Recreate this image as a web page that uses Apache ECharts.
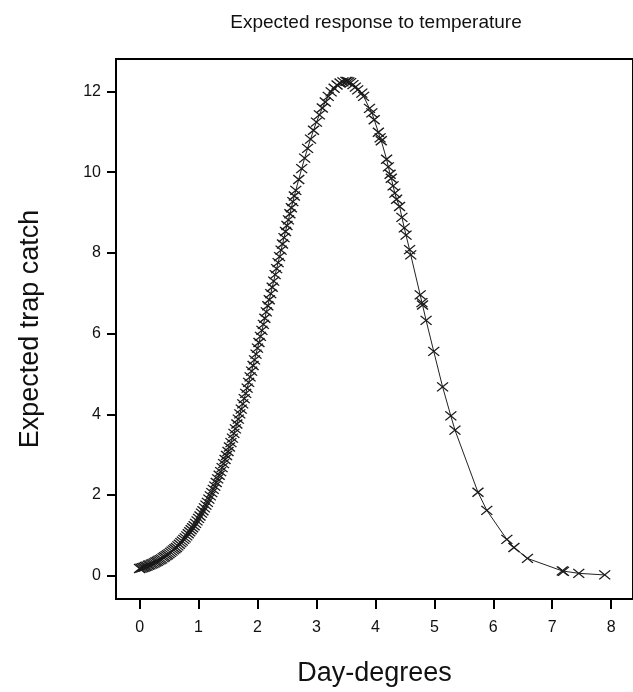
<!DOCTYPE html>
<html>
<head>
<meta charset="utf-8">
<script src="https://cdn.jsdelivr.net/npm/echarts@6/dist/echarts.min.js"></script>
<style>
html,body{margin:0;padding:0;background:#fff;}
#chart{width:633px;height:692px;}
</style>
</head>
<body>
<div id="chart"></div>
<script>
// Day-degrees (x) and expected trap catch (y)
const xValues = [
  0.00,0.025,0.05,0.075,0.10,0.125,0.15,0.175,0.20,0.225,0.25,0.275,0.30,0.325,0.35,0.375,0.40,0.425,0.45,0.475,
  0.50,0.525,0.55,0.575,0.60,0.625,0.65,0.675,0.70,0.725,0.75,0.775,0.80,0.825,0.85,0.875,0.90,0.925,0.95,0.975,
  1.00,1.025,1.05,1.075,1.10,1.125,1.15,1.175,1.20,1.225,1.25,1.275,1.30,1.325,1.35,1.375,1.40,1.425,1.45,1.475,
  1.50,1.525,1.55,1.575,1.60,1.625,1.65,1.675,1.70,1.725,1.75,1.775,1.80,1.825,1.85,1.875,1.90,1.925,1.95,1.975,
  2.00,2.025,2.05,2.075,2.10,2.125,2.15,2.175,2.20,2.225,2.25,2.275,2.30,2.325,2.35,2.375,2.40,2.425,2.45,2.475,
  2.50,2.525,2.55,2.575,2.60,2.625,2.65,
  2.70,2.75,2.80,2.85,2.90,2.95,3.00,3.05,3.10,3.15,3.20,3.25,3.30,3.35,3.40,3.45,3.50,
  3.52,3.55,3.58,3.62,3.66,3.70,3.77,3.80,3.90,3.94,3.98,4.05,4.08,4.10,4.19,4.22,4.25,4.27,4.30,4.33,
  4.36,4.41,4.45,4.49,4.52,4.58,4.60,4.76,4.79,4.80,4.86,4.99,5.14,5.28,5.35,5.74,5.89,6.23,6.35,6.58,
  7.17,7.19,7.45,7.89
];
const yValues = [
  0.18,0.19,0.20,0.21,0.23,0.24,0.26,0.27,0.29,0.30,0.32,0.34,0.36,0.38,0.40,0.42,0.45,0.47,0.50,0.52,
  0.55,0.58,0.61,0.64,0.67,0.70,0.74,0.78,0.82,0.86,0.90,0.94,0.99,1.04,1.09,1.14,1.19,1.24,1.30,1.36,
  1.42,1.48,1.55,1.61,1.68,1.75,1.82,1.90,1.98,2.06,2.14,2.22,2.31,2.40,2.49,2.58,2.68,2.78,2.88,2.98,
  3.08,3.19,3.30,3.41,3.53,3.64,3.76,3.88,4.01,4.13,4.26,4.39,4.52,4.65,4.79,4.93,5.07,5.21,5.35,5.49,
  5.64,5.78,5.93,6.08,6.23,6.38,6.54,6.69,6.84,6.99,7.15,7.30,7.46,7.61,7.76,7.91,8.07,8.22,8.38,8.53,
  8.68,8.82,8.97,9.12,9.27,9.41,9.55,
  9.82,10.09,10.35,10.59,10.82,11.04,11.24,11.42,11.59,11.74,11.88,11.99,12.08,12.16,12.21,12.24,12.25,
  12.25,12.24,12.22,12.17,12.11,12.04,11.96,11.88,11.58,11.47,11.30,10.99,10.85,10.78,10.32,10.13,9.95,9.85,9.66,9.48,
  9.33,9.15,8.88,8.62,8.44,8.08,7.95,6.96,6.77,6.71,6.33,5.56,4.68,3.96,3.61,2.07,1.62,0.90,0.70,0.43,
  0.12,0.11,0.06,0.02
];
const xTicks = [0,1,2,3,4,5,6,7,8];
const yTicks = [0,2,4,6,8,10,12];

const points = xValues.map((x, i) => [x, yValues[i]]);
const font = '"Liberation Sans", Arial, sans-serif';

const chart = echarts.init(document.getElementById('chart'), null, {renderer: 'canvas'});
chart.setOption({
  animation: false,
  backgroundColor: '#fff',
  title: {
    text: 'Expected response to temperature',
    left: 376,
    top: 13,
    padding: 0,
    textAlign: 'center',
    textStyle: {fontFamily: font, fontSize: 19, fontWeight: 'normal', color: '#111'}
  },
  grid: {
    left: 116, top: 59, right: -10, bottom: 89.3,
    show: true, borderColor: '#000', borderWidth: 2, containLabel: false
  },
  xAxis: {
    type: 'value', min: -0.4, max: 8.37,
    name: 'Day-degrees', nameLocation: 'middle', nameGap: 61,
    nameTextStyle: {fontFamily: font, fontSize: 27, color: '#111'},
    axisLine: {show: true, onZero: false, lineStyle: {color: '#000', width: 2}},
    axisTick: {show: true, inside: false, length: 10, lineStyle: {color: '#000', width: 2}, customValues: xTicks},
    axisLabel: {fontFamily: font, fontSize: 16, color: '#111', margin: 21, customValues: xTicks},
    splitLine: {show: false}
  },
  yAxis: {
    type: 'value', min: -0.576, max: 12.805,
    name: 'Expected trap catch', nameLocation: 'middle', nameGap: 72, nameRotate: 90,
    nameTextStyle: {fontFamily: font, fontSize: 27, color: '#111'},
    axisLine: {show: true, onZero: false, lineStyle: {color: '#000', width: 2}},
    axisTick: {show: true, inside: false, length: 9, lineStyle: {color: '#000', width: 2}, customValues: yTicks},
    axisLabel: {fontFamily: font, fontSize: 16, color: '#111', margin: 15, customValues: yTicks},
    splitLine: {show: false}
  },
  series: [{
    type: 'line',
    data: points,
    showSymbol: true,
    showAllSymbol: true,
    symbol: 'path://M0,0L10,10M10,0L0,10',
    symbolSize: [11, 9],
    itemStyle: {color: 'rgba(0,0,0,0)', borderColor: '#1a1a1a', borderWidth: 1.3},
    lineStyle: {color: '#222', width: 1},
    emphasis: {disabled: true}
  }]
});
</script>
</body>
</html>
